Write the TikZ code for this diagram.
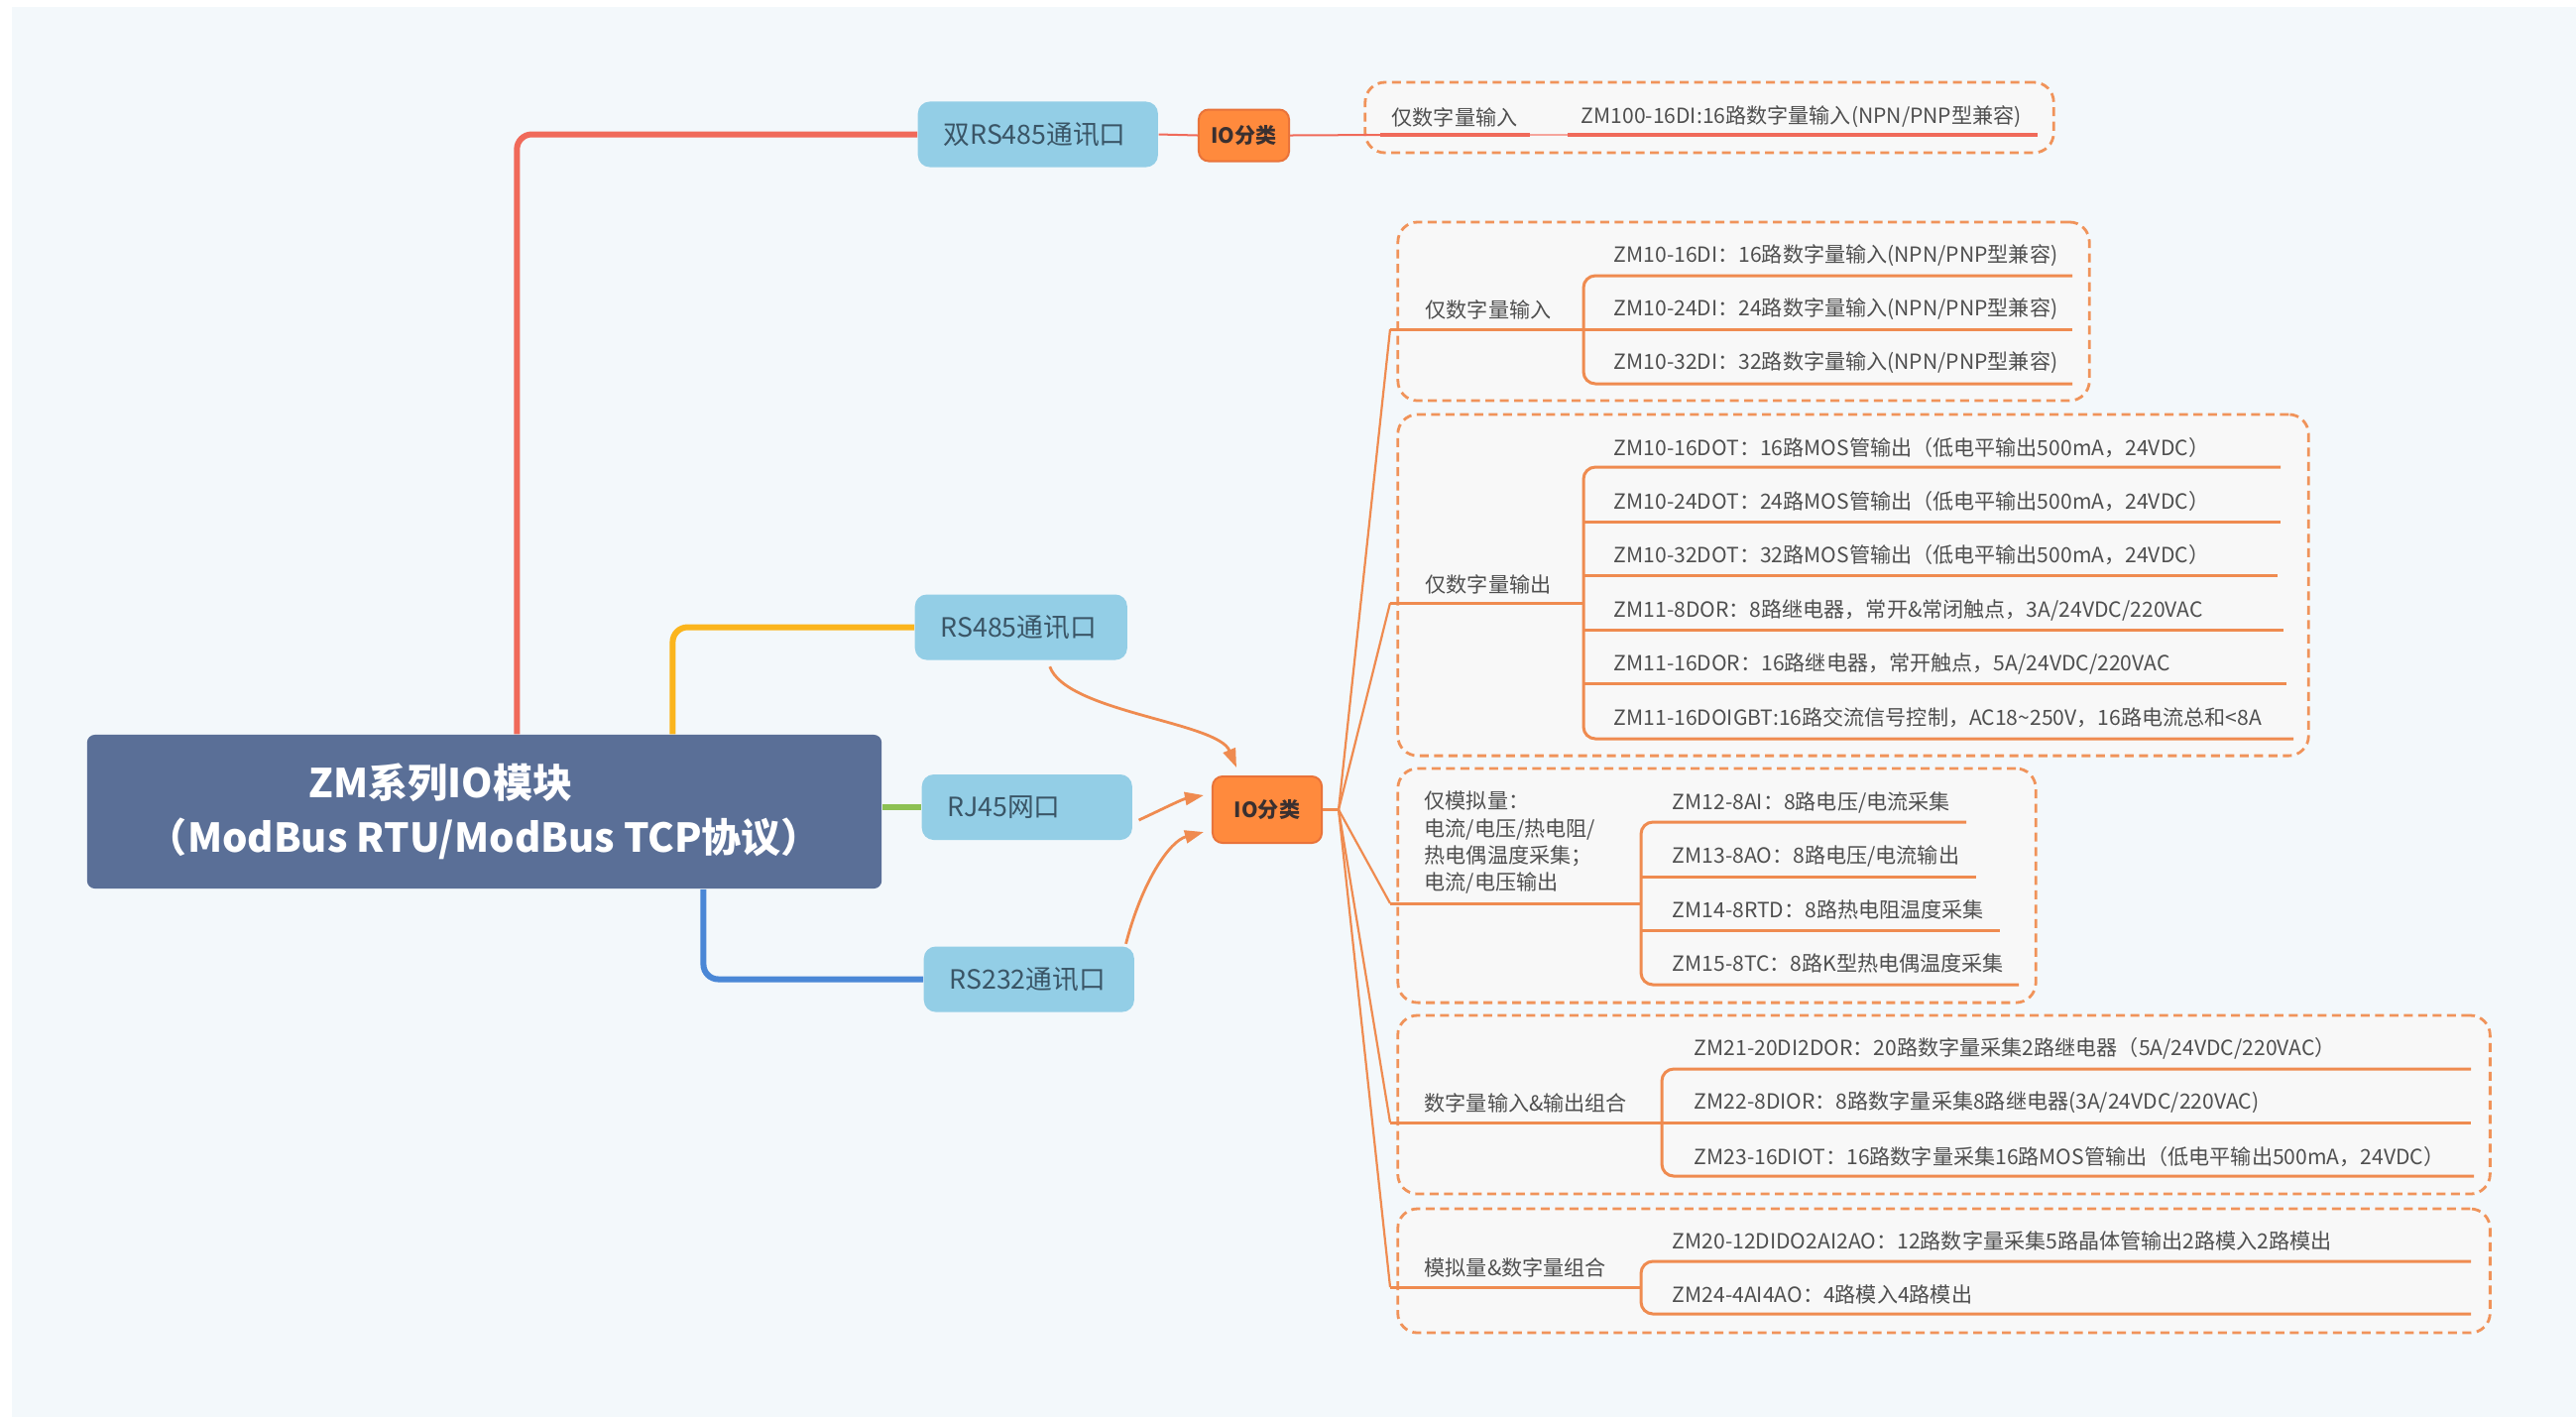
\documentclass[tikz,border=0pt]{standalone}
\usepackage{fontspec}
\setmainfont{Noto Sans CJK SC}
\usetikzlibrary{arrows.meta,calc}
\definecolor{bg}{HTML}{F3F8FB}
\definecolor{boxfill}{HTML}{F8F8F8}
\definecolor{oline}{HTML}{EF8B50}
\definecolor{odash}{HTML}{F0935A}
\definecolor{txt}{HTML}{4F4F4F}
\definecolor{portfill}{HTML}{93CEE6}
\definecolor{porttxt}{HTML}{3A5566}
\definecolor{rootfill}{HTML}{5A6F97}
\definecolor{iofill}{HTML}{FF8A3D}
\definecolor{ioborder}{HTML}{E9733A}
\definecolor{iotxt}{HTML}{3A3030}
\definecolor{bred}{HTML}{F06A5A}
\definecolor{byellow}{HTML}{FBB51D}
\definecolor{bgreen}{HTML}{8DC153}
\definecolor{bblue}{HTML}{4A87D6}
\tikzset{
  rootnode/.style={fill=rootfill, rounded corners=0.08cm, text=white, align=center,
    font=\bfseries\fontsize{11.4pt}{15.6pt}\selectfont, minimum width=8.01cm, minimum height=1.55cm},
  port/.style={fill=portfill, rounded corners=0.12cm, text=porttxt, align=left, anchor=west,
    font=\fontsize{7.6pt}{9pt}\selectfont, inner xsep=0.26cm, minimum height=0.66cm},
  ionode/.style={fill=iofill, draw=ioborder, line width=0.02cm, rounded corners=0.1cm, text=iotxt,
    font=\bfseries\fontsize{6pt}{7pt}\selectfont, inner sep=0},
  grpbox/.style={draw=odash, fill=boxfill, line width=0.028cm, dash pattern=on 0.09cm off 0.055cm,
    rounded corners=0.2cm, inner sep=0},
  lbl/.style={anchor=west, inner sep=0, text=txt, font=\fontsize{6pt}{7.68pt}\selectfont},
  uline/.style={draw=oline, line width=0.03cm},
  fan/.style={draw=oline, line width=0.022cm},
  arr/.style={draw=oline, line width=0.028cm, -{Triangle[length=0.19cm,width=0.13cm]}},
  branch/.style={line width=0.06cm, rounded corners=0.15cm},
}
\begin{document}
\begin{tikzpicture}[x=0.01cm,y=-0.01cm]
\useasboundingbox (0,0) rectangle (2598,1429);
\fill[white] (0,0) rectangle (2598,1429);
\fill[bg] (12,7) rectangle (2598,1429);

% ---------- group boxes ----------
\node[grpbox, minimum width=6.94cm, minimum height=0.71cm] (b1) at (1724,118.5) {};
\node[grpbox, minimum width=6.97cm, minimum height=1.80cm] (b2) at (1758.5,314) {};
\node[grpbox, minimum width=9.18cm, minimum height=3.44cm] (b3) at (1869,590) {};
\node[grpbox, minimum width=6.43cm, minimum height=2.36cm] (b4) at (1731.5,893) {};
\node[grpbox, minimum width=11.01cm, minimum height=1.80cm] (b5) at (1960.5,1114) {};
\node[grpbox, minimum width=11.01cm, minimum height=1.25cm] (b6) at (1960.5,1281.5) {};

% ---------- main nodes ----------
\node[rootnode] (root) at (488.5,818.5) {ZM系列IO模块\hspace*{0.88cm}\\（ModBus RTU/ModBus TCP协议）};
\node[port, text width=1.90cm] (p1) at (925,135.5) {双RS485通讯口};
\node[port, text width=1.62cm] (p2) at (922,632.5) {RS485通讯口};
\node[port, text width=1.60cm] (p3) at (929,814) {RJ45网口};
\node[port, text width=1.60cm] (p4) at (931,987.5) {RS232通讯口};
\node[ionode, minimum width=0.91cm, minimum height=0.52cm] (io1) at (1254.5,136.5) {IO分类};
\node[ionode, minimum width=1.10cm, minimum height=0.67cm] (io2) at (1278,816.5) {IO分类};

% ---------- branches ----------
\draw[branch, bred] ([xshift=4.34cm]root.north west) |- (p1.west);
\draw[branch, byellow] ([xshift=5.91cm]root.north west) |- (p2.west);
\draw[branch, bgreen] (root.east |- p3.west) -- (p3.west);
\draw[branch, bblue] ([xshift=6.22cm]root.south west) |- (p4.west);

% ---------- group 1 (red) ----------
\coordinate (r1) at (1392,136);
\coordinate (r2) at (1543,136);
\coordinate (r3) at (1581,136);
\coordinate (r4) at (2055,136);
\draw[bred, line width=0.02cm] (p1.east) -- (io1.west);
\draw[bred, line width=0.02cm] (io1.east) -- (r1);
\draw[bred, line width=0.035cm] (r1) -- (r2);
\draw[bred!60, line width=0.02cm] (r2) -- (r3);
\draw[bred, line width=0.035cm] (r3) -- (r4);
\node[lbl] (l1) at (1403,118) {仅数字量输入};
\node[lbl] (i11) at (1594,118) {ZM100-16DI:16路数字量输入(NPN/PNP型兼容)};

% ---------- arrows into central IO node ----------
\draw[arr] ([xshift=0.29cm,yshift=-0.06cm]p2.south) .. controls (1075,718) and (1228,728) .. ([xshift=-0.31cm,yshift=0.08cm]io2.north);
\draw[arr] ([xshift=0.06cm,yshift=-0.13cm]p3.east) .. controls (1168,818) and (1192,806) .. ([xshift=-0.08cm,yshift=0.145cm]io2.west);
\draw[arr] ([xshift=-0.09cm,yshift=0.02cm]p4.north east) .. controls (1152,888) and (1180,848) .. ([xshift=-0.08cm,yshift=-0.225cm]io2.west);

% ---------- fan ----------
\coordinate (fo) at (1350,816.5);
\coordinate (f2) at (1402,332);
\coordinate (f3) at (1402,608);
\coordinate (f4) at (1402,911);
\coordinate (f5) at (1402,1132);
\coordinate (f6) at (1402,1298);
\draw[fan] (io2.east) -- (fo);
\foreach \f in {f2,f3,f4,f5,f6} \draw[fan] (fo) -- (\f);

% ---------- group 2 ----------
\draw[uline] (f2) -- (1597,332);
\draw[uline, rounded corners=0.12cm] (2090,278) -- (1597,278) -- (1597,387) -- (2090,387);
\draw[uline] (1597,332) -- (2090,332);
\node[lbl] (l2) at (1437,312) {仅数字量输入};
\node[lbl] (i21) at (1627,258) {ZM10-16DI：16路数字量输入(NPN/PNP型兼容)};
\node[lbl] (i22) at (1627,312) {ZM10-24DI：24路数字量输入(NPN/PNP型兼容)};
\node[lbl] (i23) at (1627,366) {ZM10-32DI：32路数字量输入(NPN/PNP型兼容)};

% ---------- group 3 ----------
\draw[uline] (f3) -- (1597,608);
\draw[uline, rounded corners=0.12cm] (2300,471) -- (1597,471) -- (1597,745) -- (2313,745);
\draw[uline] (1597,526) -- (2300,526);
\draw[uline] (1597,580) -- (2297,580);
\draw[uline] (1597,635) -- (2303,635);
\draw[uline] (1597,689) -- (2306,689);
\node[lbl] (l3) at (1437,589) {仅数字量输出};
\node[lbl] (i31) at (1627,452) {ZM10-16DOT：16路MOS管输出（低电平输出500mA，24VDC）};
\node[lbl] (i32) at (1627,506) {ZM10-24DOT：24路MOS管输出（低电平输出500mA，24VDC）};
\node[lbl] (i33) at (1627,560) {ZM10-32DOT：32路MOS管输出（低电平输出500mA，24VDC）};
\node[lbl] (i34) at (1627,615) {ZM11-8DOR：8路继电器，常开\&常闭触点，3A/24VDC/220VAC};
\node[lbl] (i35) at (1627,669) {ZM11-16DOR：16路继电器，常开触点，5A/24VDC/220VAC};
\node[lbl] (i36) at (1627,724) {ZM11-16DOIGBT:16路交流信号控制，AC18\textasciitilde250V，16路电流总和<8A};

% ---------- group 4 ----------
\draw[uline] (f4) -- (1655,911);
\draw[uline, rounded corners=0.12cm] (1983,829) -- (1655,829) -- (1655,993) -- (2036,993);
\draw[uline] (1655,884) -- (1993,884);
\draw[uline] (1655,938) -- (2017,938);
\node[lbl, align=left] (l4) at (1436,849.5) {仅模拟量：\\电流/电压/热电阻/\\热电偶温度采集；\\电流/电压输出};
\node[lbl] (i41) at (1686,809) {ZM12-8AI：8路电压/电流采集};
\node[lbl] (i42) at (1686,863) {ZM13-8AO：8路电压/电流输出};
\node[lbl] (i43) at (1686,917) {ZM14-8RTD：8路热电阻温度采集};
\node[lbl] (i44) at (1686,971) {ZM15-8TC：8路K型热电偶温度采集};

% ---------- group 5 ----------
\draw[uline] (f5) -- (1676,1132);
\draw[uline, rounded corners=0.12cm] (2492,1078) -- (1676,1078) -- (1676,1186) -- (2495,1186);
\draw[uline] (1676,1132) -- (2492,1132);
\node[lbl] (l5) at (1436,1112) {数字量输入\&输出组合};
\node[lbl] (i51) at (1708,1057) {ZM21-20DI2DOR：20路数字量采集2路继电器（5A/24VDC/220VAC）};
\node[lbl] (i52) at (1708,1112) {ZM22-8DIOR：8路数字量采集8路继电器(3A/24VDC/220VAC)};
\node[lbl] (i53) at (1708,1167) {ZM23-16DIOT：16路数字量采集16路MOS管输出（低电平输出500mA，24VDC）};

% ---------- group 6 ----------
\draw[uline] (f6) -- (1655,1298);
\draw[uline, rounded corners=0.12cm] (2492,1272) -- (1655,1272) -- (1655,1325) -- (2492,1325);
\node[lbl] (l6) at (1436,1278) {模拟量\&数字量组合};
\node[lbl] (i61) at (1686,1251) {ZM20-12DIDO2AI2AO：12路数字量采集5路晶体管输出2路模入2路模出};
\node[lbl] (i62) at (1686,1305) {ZM24-4AI4AO：4路模入4路模出};
\end{tikzpicture}
\end{document}
